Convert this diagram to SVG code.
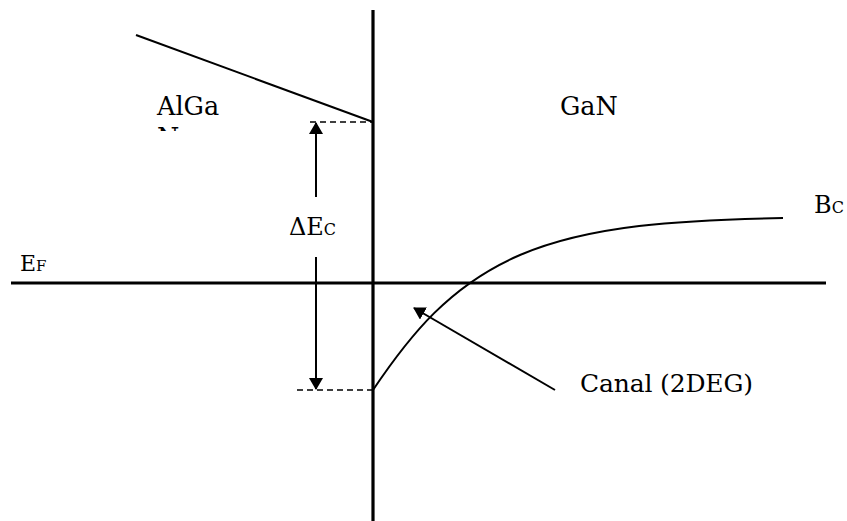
<svg xmlns="http://www.w3.org/2000/svg" width="847" height="521" viewBox="0 0 847 521">
<defs>
<style>
.t{font-family:"DejaVu Serif","Liberation Serif",serif;fill:#000}
.thick{stroke:#000;stroke-width:3.2;fill:none}
.thin{stroke:#000;stroke-width:2;fill:none}
.dash{stroke:#000;stroke-width:1.6;stroke-dasharray:6,4;fill:none}
</style>
<marker id="ah" viewBox="0 0 12 14" refX="11" refY="7" markerWidth="12" markerHeight="14" markerUnits="userSpaceOnUse" orient="auto">
<path d="M0,0 L12,7 L0,14 Z" fill="#000"/>
</marker>
<clipPath id="clipN"><rect x="150" y="118" width="40" height="13"/></clipPath>
</defs>
<rect width="847" height="521" fill="#fff"/>
<g id="connectors">
<line id="interface" class="thick" x1="373" y1="10" x2="373" y2="521"/>
<line id="fermi" class="thick" x1="11" y1="283" x2="826" y2="283"/>
<line id="algan-band" class="thin" x1="136" y1="35" x2="373" y2="122"/>
<line class="dash" x1="310" y1="122" x2="373" y2="122"/>
<line class="dash" x1="297" y1="390" x2="373" y2="390"/>
<line class="thin" x1="316" y1="197" x2="316" y2="123" marker-end="url(#ah)"/>
<line class="thin" x1="316" y1="257" x2="316" y2="389" marker-end="url(#ah)"/>
<path id="gan-band" class="thin" d="M373,390 C410,335 450,285 520,255 S680,220 783,218"/>
<line class="thin" x1="555" y1="390" x2="414" y2="308" marker-end="url(#ah)"/>
</g>
<g id="label-algan">
<text class="t" x="157" y="115" font-size="25.5">AlGa</text>
<text class="t" x="157" y="146" font-size="25.5" clip-path="url(#clipN)">N</text>
</g>
<g id="label-gan"><text class="t" x="560" y="115" font-size="25.5">GaN</text></g>
<g id="label-dec"><text class="t" x="289" y="235" font-size="24">ΔE<tspan font-size="16">C</tspan></text></g>
<g id="label-ef"><text class="t" x="20" y="271" font-size="22">E<tspan font-size="15">F</tspan></text></g>
<g id="label-bc"><text class="t" x="814" y="213" font-size="24">B<tspan font-size="16">C</tspan></text></g>
<g id="label-canal"><text class="t" x="580" y="392" font-size="25" textLength="173">Canal (2DEG)</text></g>
</svg>
